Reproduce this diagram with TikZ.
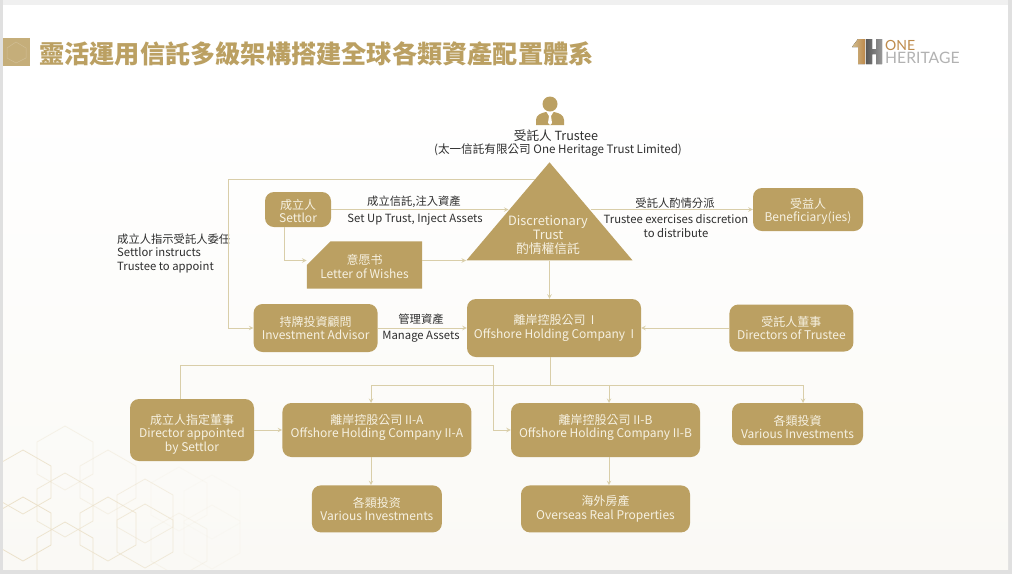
\documentclass[tikz,border=0pt]{standalone}
\usepackage{fontspec}
\setmainfont{Noto Sans CJK TC}
\newfontfamily\logofont{Lato}
\usetikzlibrary{shapes.geometric,shapes.misc,positioning,calc}
\definecolor{gold}{HTML}{BBA062}
\definecolor{goldline}{HTML}{D9CEA9}
\definecolor{goldhex}{HTML}{EADFC6}
\definecolor{boxtext}{HTML}{F6F1E2}
\definecolor{labeltext}{HTML}{2E2E2E}
\definecolor{slidelow}{HTML}{FAF9F5}
\tikzset{
	tribox/.style={
		isosceles triangle,
		isosceles triangle apex angle=80.6,
		isosceles triangle stretches,
		shape border rotate=90,
		minimum width=166pt,
		minimum height=98pt,
		inner sep=0pt,
		fill=gold
	},
	chamfer/.style={
		chamfered rectangle,
		chamfered rectangle corners=north west,
		chamfered rectangle xsep=21pt,
		chamfered rectangle ysep=10pt,
		fill=gold,
		text=boxtext,
		align=center,
		inner sep=0pt,
		font=\fontsize{12}{13.5}\selectfont
	}
}

\begin{document}
\begin{tikzpicture}[x=1pt,y=-1pt]
		\tikzstyle{main}=[rectangle, rounded corners=9pt, fill=gold, text=boxtext, align=center, inner sep=0pt, font=\fontsize{12}{13.5}\selectfont]
		\tikzstyle{connect}=[draw=goldline, line width=1pt, >=stealth]
		\tikzstyle{lbl}=[text=labeltext, inner sep=0pt, font=\fontsize{11.3}{13.5}\selectfont]
		\tikzstyle{hex}=[draw=goldhex, line width=0.8pt]
		\useasboundingbox (0,0) rectangle (1012,574);
		
		% slide
		\fill[black!12] (0,0) rectangle (1012,574);
		\fill[black!6] (3,0) rectangle (1008,5);
		\fill[white] (3,5) rectangle (1008,569);
		\shade[top color=white, bottom color=slidelow] (3,90) rectangle (1008,569);
		
		% hexagons
		\begin{scope}
		\clip (3,5) rectangle (1008,569);
		\foreach \hx/\hy/\hop in {65/458/.35, 23/482/.8, 108/482/.35, 65/505/.6, 65/554/.8, 23/529/.9, 108/529/.7, 145/511/.45, 145/536/.6, 179/499/.12, 179/545/.25, 212/507/.08, 212/537/.12}
			\draw[hex, opacity=\hop] (\hx,\hy-32) -- (\hx+28,\hy-16) -- (\hx+28,\hy+16) -- (\hx,\hy+32) -- (\hx-28,\hy+16) -- (\hx-28,\hy-16) -- cycle;
		\end{scope}
		
		% title
		\fill[gold!85!white] (3,38) rectangle (30,66);
		\draw[white, opacity=.2, line width=0.5pt] (16,42) -- (26,48) -- (26,58) -- (16,63) -- (7,58) -- (7,48) -- cycle;
		\node[text=gold, inner sep=0pt, anchor=west, font=\fontsize{25.2}{25.2}\selectfont\bfseries] (title) at (39,54) {靈活運用信託多級架構搭建全球各類資產配置體系};
		
		% logo
		\fill[left color=gold!70!white, right color=brown!70!gold] (852,47) -- (858,39) -- (865,39) -- (865,64) -- (858,64) -- (858,47) -- cycle;
		\fill[left color=black!65, right color=black!40] (866,39) rectangle (872,64) (872,49) rectangle (876,54) (876,39) rectangle (882,64);
		\node[text=brown!65!gold, inner sep=0pt, anchor=west, font=\fontsize{14}{14}\selectfont\logofont] (logoone) at (885,45) {ONE};
		\node[text=black!30, inner sep=0pt, anchor=west, font=\fontsize{15.7}{15.7}\selectfont\logofont] (logoheritage) at (885,58) {HERITAGE};
		
		% trustee
		\node[circle, fill=gold, minimum size=15pt, inner sep=0pt] (head) at (550,104) {};
		\fill[gold] (536,125) -- (536,120) .. controls (536,115) and (541,113) .. (546,112) -- (554,112) .. controls (559,113) and (564,115) .. (564,120) -- (564,125) -- cycle;
		\fill[white] (546.5,112) -- (553.5,112) -- (551,116) -- (552,123) -- (550,125) -- (548,123) -- (549,116) -- cycle;
		\node[lbl, font=\fontsize{12.6}{14}\selectfont] (trustee) at (556,136) {受託人 Trustee};
		\node[lbl, font=\fontsize{11.6}{14}\selectfont] (trusteeco) at (558,150) {(太一信託有限公司 One Heritage Trust Limited)};
		
		% boxes
		\node[tribox, anchor=apex] (trust) at (549.5,162) {};
		\node[main, fill=none, font=\fontsize{12.8}{14}\selectfont] (trusttext) at (548,235) {Discretionary\\Trust\\酌情權信託};
		\node[main, minimum width=66pt, minimum height=35pt, text height=27pt] (settlor) at (298,209.5) {成立人\\Settlor};
		\node[chamfer, minimum width=109pt, minimum height=46pt, text height=27pt] (letter) at (364.5,265) {意愿书\\Letter of Wishes};
		\node[main, minimum width=110pt, minimum height=43pt, text height=27pt] (benef) at (808,209.5) {受益人\\Beneficiary(ies)};
		\node[main, minimum width=174pt, minimum height=58pt] (hold) at (554,328) {離岸控股公司 \ I\\Offshore Holding Company \ I};
		\node[main, minimum width=124pt, minimum height=48pt] (advisor) [left=89pt of hold] {持牌投資顧問\\Investment Advisor};
		\node[main, minimum width=124pt, minimum height=47pt] (dirtrustee) [right=88pt of hold] {受託人董事\\Directors of Trustee};
		\node[main, minimum width=124pt, minimum height=62pt, text height=45pt] (dirsettlor) at (192,430) {成立人指定董事\\Director appointed\\by Settlor};
		\node[main, minimum width=189pt, minimum height=54pt, text depth=8pt] (holda) [right=28pt of dirsettlor] {離岸控股公司 II-A\\Offshore Holding Company II-A};
		\node[main, minimum width=189pt, minimum height=54pt, text depth=8pt] (holdb) at (605.5,430) {離岸控股公司 II-B\\Offshore Holding Company II-B};
		\node[main, minimum width=131pt, minimum height=42pt, text height=30pt] (invright) at (797.5,424) {各類投資\\Various Investments};
		\node[main, minimum width=130pt, minimum height=47pt] (invleft) [below=28pt of holda] {各類投资\\Various Investments};
		\node[main, minimum width=169pt, minimum height=47pt] (overseas) [below=28pt of holdb] {海外房產\\Overseas Real Properties};
		
		% labels
		\node[lbl] (setupcn) at (414,202) {成立信託,注入資產};
		\node[lbl] (setupen) at (415,219) {Set Up Trust, Inject Assets};
		\node[lbl] (distcn) at (675,203) {受託人酌情分派};
		\node[lbl, align=center] (distven) at (676,226) {Trustee exercises discretion\\to distribute};
		\node[lbl, align=left, anchor=west] (appoint) at (117,253.5) {成立人指示受託人委任\\Settlor instructs\\Trustee to appoint};
		\node[lbl] (managecn) at (421,319) {管理資產};
		\node[lbl] (manageen) at (421,337) {Manage Assets};
		
		% named ends
		\coordinate (trustin) at (508.5,209.5);
		\coordinate (trustout) at (590.5,209.5);
		\coordinate (trustloop) at (535,179);
		\coordinate (settlorout) at (284,227);
		\coordinate (fork) at (550,385);
		\coordinate (dirtop) at (180,399);
		\coordinate (forka) at (371,403);
		\coordinate (forkb) at (609,403);
		\coordinate (forkc) at (803,403);
		
		\path[->] 
		(settlor) edge [connect] (trustin)
		(trustout) edge [connect] (benef)
		(letter.east |- trust.left corner) edge [connect] (trust.left corner)
		(advisor) edge [connect] (hold)
		(dirtrustee) edge [connect] (hold)
		(dirsettlor) edge [connect] (holda)
		(forka |- holda.south) edge [connect] (forka |- invleft.north)
		(forkb |- holdb.south) edge [connect] (forkb |- overseas.north)
		(trust.lower side |- trust.left corner) edge [connect] (hold.north -| trust.lower side)
		;
		
		\draw[connect,->] (settlorout) |- (letter.west |- trust.left corner);
		\draw[connect,->] (trustloop) -| (228,328) -- (advisor.west);
		\draw[connect] (hold.south -| fork) -- (fork);
		\draw[connect,->] (fork) -| (forka);
		\draw[connect,->] (fork) -| (forkb);
		\draw[connect,->] (fork) -| (forkc);
		\draw[connect,->] (dirtop) |- (493.5,365) |- (holdb.west);
		
		\end{tikzpicture}
\end{document}
